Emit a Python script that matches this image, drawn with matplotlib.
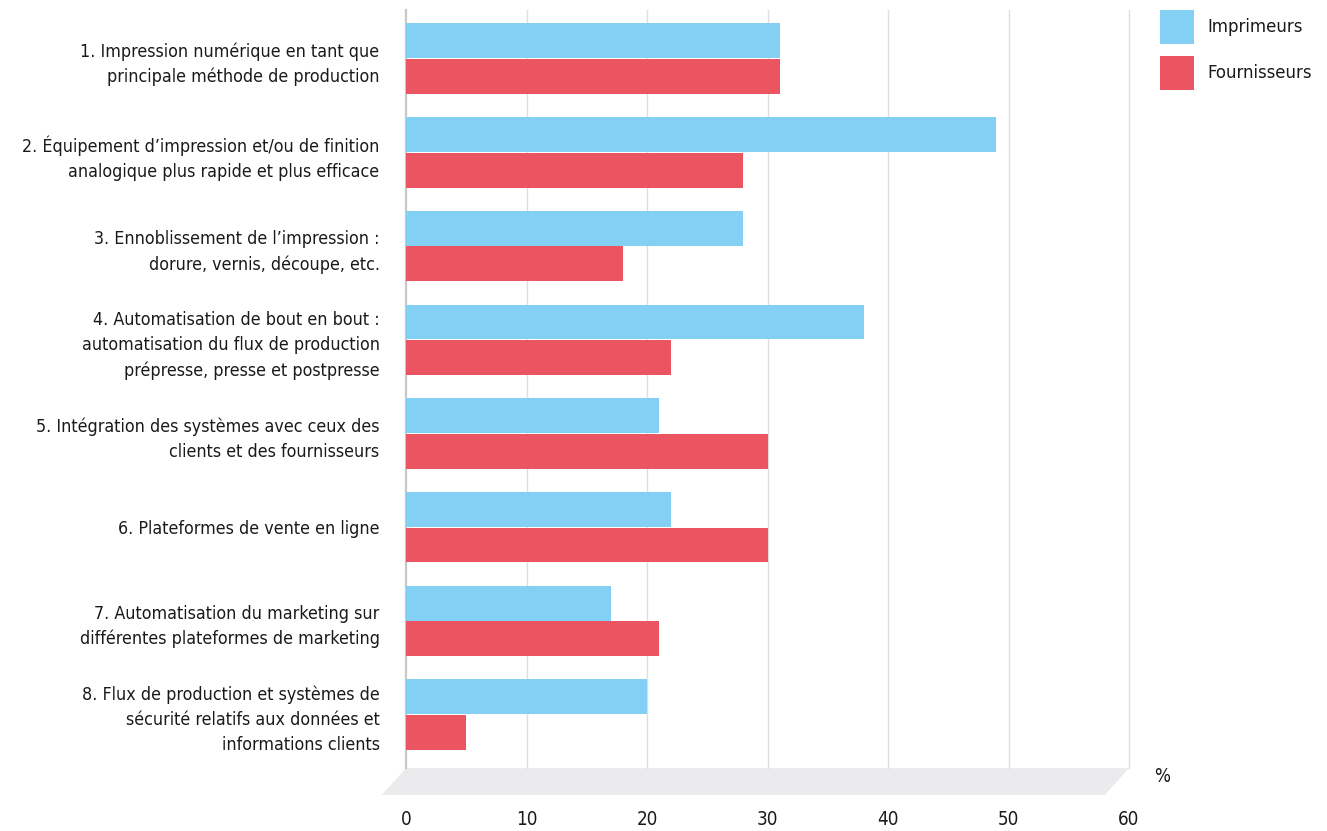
import matplotlib
matplotlib.use("Agg")
import matplotlib.pyplot as plt
from matplotlib.patches import Polygon, Rectangle
from matplotlib.transforms import blended_transform_factory

categories = [
    "1. Impression numérique en tant que\nprincipale méthode de production",
    "2. Équipement d’impression et/ou de finition\nanalogique plus rapide et plus efficace",
    "3. Ennoblissement de l’impression :\ndorure, vernis, découpe, etc.",
    "4. Automatisation de bout en bout :\nautomatisation du flux de production\nprépresse, presse et postpresse",
    "5. Intégration des systèmes avec ceux des\nclients et des fournisseurs",
    "6. Plateformes de vente en ligne",
    "7. Automatisation du marketing sur\ndifférentes plateformes de marketing",
    "8. Flux de production et systèmes de\nsécurité relatifs aux données et\ninformations clients",
]
imprimeurs = [31, 49, 28, 38, 21, 22, 17, 20]
fournisseurs = [31, 28, 18, 22, 30, 30, 21, 5]
series_names = ["Imprimeurs", "Fournisseurs"]
x_ticks = [0, 10, 20, 30, 40, 50, 60]

BLUE = "#84CFF4"
RED = "#EA5561"
TEXT = "#1a1a1a"

plt.rcParams["font.family"] = ["DejaVu Sans"]
plt.rcParams["font.stretch"] = "condensed"
FS = 12.8

fig = plt.figure(figsize=(13.27, 8.31), dpi=100)
ax = fig.add_axes([406 / 1327, 1 - 768 / 831, (1129 - 406) / 1327, (768 - 10) / 831])

pos = list(range(len(categories)))
h = 0.372
off = 0.19
ax.barh([p - off for p in pos], imprimeurs, height=h, color=BLUE, zorder=3)
ax.barh([p + off for p in pos], fournisseurs, height=h, color=RED, zorder=3)

ax.set_xlim(0, 60)
ax.set_ylim(7.57, -0.52)

for spine in ax.spines.values():
    spine.set_visible(False)
for x in x_ticks:
    ax.axvline(x, color="#c8c8c8" if x == 0 else "#dedede",
               lw=1.6 if x == 0 else 1.0, zorder=1, clip_on=False)

ax.set_yticks(pos)
ax.set_yticklabels(categories, fontsize=FS, color=TEXT, linespacing=1.5)
ax.tick_params(axis="y", length=0, pad=19)
ax.set_xticks(x_ticks)
ax.set_xticklabels([str(t) for t in x_ticks], fontsize=13.5, color=TEXT)
ax.tick_params(axis="x", length=0, pad=30)

# grey floor under the plot area
tr = blended_transform_factory(ax.transData, ax.transAxes)
floor = Polygon([(0, 0), (60, 0), (58.0, -0.0356), (-2.0, -0.0356)],
                closed=True, transform=tr, facecolor="#ebebed",
                edgecolor="none", clip_on=False, zorder=0)
ax.add_patch(floor)

fig.text(1162 / 1327, 1 - 776 / 831, "%", fontsize=13.5, color=TEXT,
         ha="center", va="center")

# legend
for i, (name, col) in enumerate(zip(series_names, [BLUE, RED])):
    top = 10 + i * 46
    fig.patches.append(Rectangle((1160 / 1327, 1 - (top + 34) / 831),
                                 34 / 1327, 34 / 831, transform=fig.transFigure,
                                 facecolor=col, edgecolor="none"))
    fig.text(1207 / 1327, 1 - (top + 17) / 831, name, fontsize=13.2,
             color=TEXT, ha="left", va="center")

fig.savefig("out.png", dpi=100)
